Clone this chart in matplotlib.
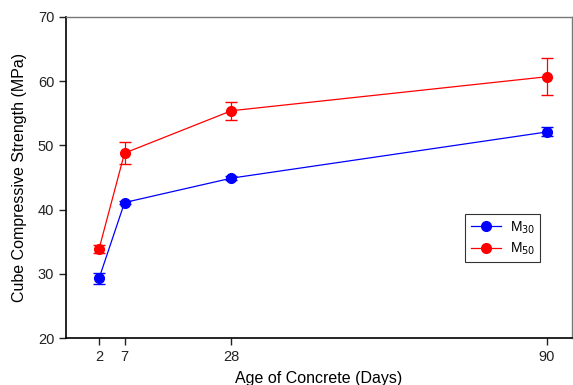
import matplotlib
matplotlib.use('Agg')
import matplotlib.pyplot as plt

plt.rcParams['font.family'] = ['Liberation Sans', 'DejaVu Sans']

days = [2, 7, 28, 90]
m30 = [29.3, 41.1, 44.9, 52.1]
m30_err = [0.9, 0.3, 0.3, 0.7]
m50 = [33.9, 48.8, 55.4, 60.7]
m50_err = [0.6, 1.7, 1.4, 2.9]

fig = plt.figure(figsize=(5.73, 3.85), dpi=100)
ax = fig.add_axes([66 / 573, 1 - 338 / 385, (572 - 66) / 573, (338 - 17) / 385])

l30 = ax.errorbar(days, m30, yerr=m30_err, color='blue', marker='o', markersize=7,
                  linewidth=0.9, capsize=4, elinewidth=0.9)
l50 = ax.errorbar(days, m50, yerr=m50_err, color='red', marker='o', markersize=7,
                  linewidth=0.9, capsize=4, elinewidth=0.9)

ax.set_xlim(-4.5, 94.9)
ax.set_ylim(20, 70)
ax.set_xticks(days)
ax.set_yticks([20, 30, 40, 50, 60, 70])
ax.tick_params(direction='out', length=5, width=1, labelsize=10.5, colors='#222222')
for s in ['top', 'right']:
    ax.spines[s].set_color('#777777')
    ax.spines[s].set_linewidth(1)
for s in ['left', 'bottom']:
    ax.spines[s].set_linewidth(1.2)

ax.set_xlabel('Age of Concrete (Days)', fontsize=11.5, labelpad=5)
ax.set_ylabel('Cube Compressive Strength (MPa)', fontsize=11.5, labelpad=8)

leg = ax.legend([l30.lines[0], l50.lines[0]], ['M$_{30}$', 'M$_{50}$'],
                loc='upper left', bbox_to_anchor=(0.775, 0.409), fancybox=False,
                edgecolor='black', fontsize=10, handlelength=2.2, borderpad=0.4,
                labelspacing=0.35, handletextpad=0.6)
leg.get_frame().set_linewidth(0.8)

fig.savefig('out.png', dpi=100)
